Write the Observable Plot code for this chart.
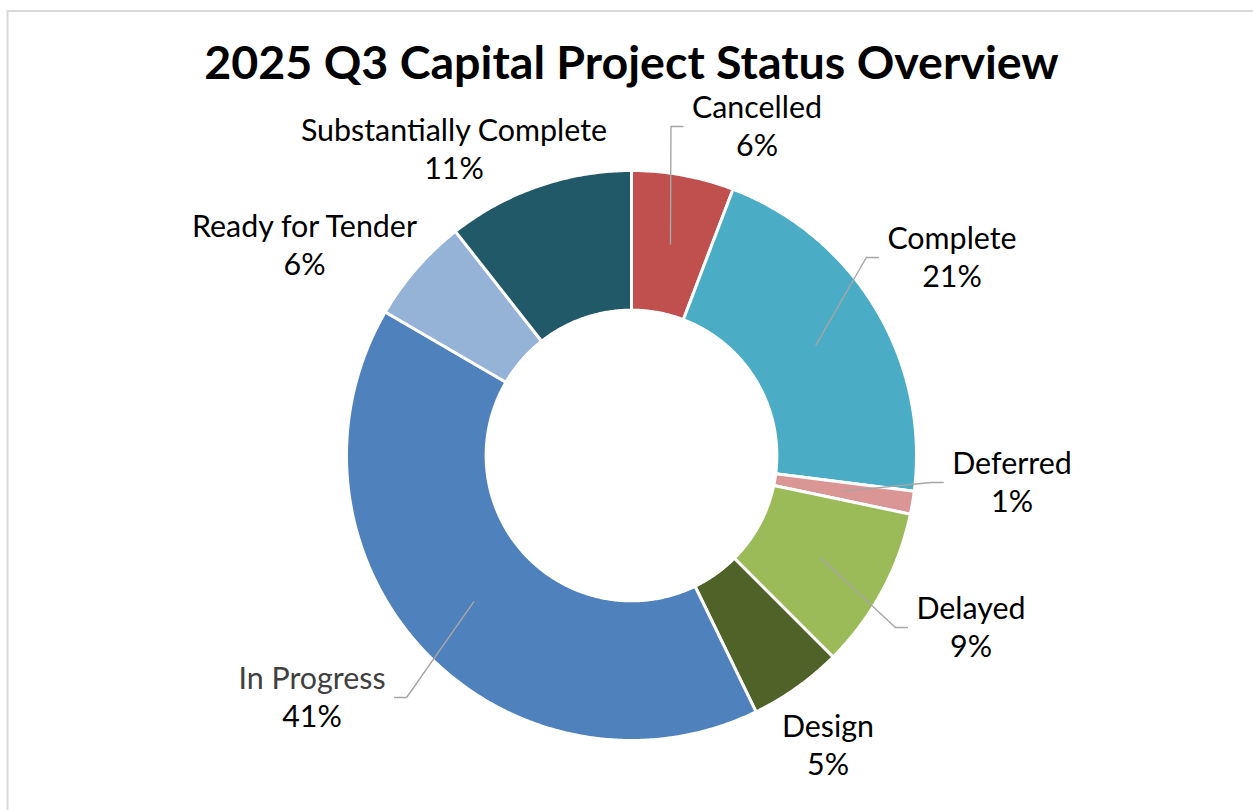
<!DOCTYPE html>
<html><head><meta charset="utf-8">
<script src="https://cdn.jsdelivr.net/npm/d3@7"></script>
<script src="https://cdn.jsdelivr.net/npm/@observablehq/plot@0.6"></script>
<style>body{margin:0;background:#fff;}</style>
</head><body><div id="chart"></div>
<script>
// ---- data (share of capital projects, %) ----
const categories = ["Cancelled","Complete","Deferred","Delayed","Design","In Progress","Ready for Tender","Substantially Complete"];
const projectShares = [5.8, 21.2, 1.3, 9.2, 5.3, 40.6, 6.0, 10.6];
const sliceColors = ["#C0504D","#4BACC6","#D99694","#9BBB59","#4F6228","#4F81BD","#95B3D7","#215968"];
const titleText = "2025 Q3 Capital Project Status Overview";

// ---- layout (pixels) ----
const W = 1253, H = 810, CX = 631, CY = 455, R = 285, HOLE = 0.51;
const FONT = "Lato", FS = 30.4, TITLE_FS = 46.6, LINE_GAP = 38;
// label anchor = (centre x, first baseline) as pixel offset from donut centre
const labelLayout = {
  "Cancelled": {dx: 125.5, dy: -338, leader: true},
  "Complete": {dx: 320.5, dy: -207, leader: true},
  "Deferred": {dx: 380.5, dy: 18, leader: true},
  "Delayed": {dx: 339.5, dy: 163, leader: true},
  "Design": {dx: 196.5, dy: 281, leader: false},
  "In Progress": {dx: -319.5, dy: 233, leader: true},
  "Ready for Tender": {dx: -327, dy: -219, leader: false},
  "Substantially Complete": {dx: -177.5, dy: -315, leader: false}
};

const ctx = document.createElement("canvas").getContext("2d");
function textWidth(s, fs, weight = "normal", fam = FONT) { ctx.font = `${weight} ${fs}px "${fam}"`; return ctx.measureText(s).width; }

const total = d3.sum(projectShares);
const pie = d3.pie().sort(null).value(d => d)(projectShares);
const pctText = i => Math.round(projectShares[i] / total * 100) + "%";

const arcRows = [];
pie.forEach((s, i) => {
  const name = categories[i];
  const n = Math.max(2, Math.ceil((s.endAngle - s.startAngle) / (Math.PI / 360)));
  for (let k = 0; k <= n; k++) { const a = s.startAngle + (s.endAngle - s.startAngle) * k / n; arcRows.push({name, x: Math.sin(a), y: Math.cos(a)}); }
  for (let k = n; k >= 0; k--) { const a = s.startAngle + (s.endAngle - s.startAngle) * k / n; arcRows.push({name, x: HOLE * Math.sin(a), y: HOLE * Math.cos(a)}); }
});

const labelRows = categories.map((name, i) => {
  const L = labelLayout[name];
  return {name, pct: pctText(i), x: L.dx / R, y: -L.dy / R, gray: name === "In Progress"};
});

const leaderRows = [];
pie.forEach((s, i) => {
  const name = categories[i], L = labelLayout[name];
  if (!L.leader) return;
  const w = Math.max(textWidth(name, FS), textWidth(pctText(i), FS));
  const a = (s.startAngle + s.endAngle) / 2, r = (1 + HOLE) / 2;
  const side = L.dx > 0 ? -1 : 1;
  const endX = L.dx + side * (w / 2 + 9), elbowX = endX + side * 12, yy = L.dy + 9;
  leaderRows.push({name, x: r * Math.sin(a), y: r * Math.cos(a)});
  leaderRows.push({name, x: elbowX / R, y: -yy / R});
  leaderRows.push({name, x: endX / R, y: -yy / R});
});

const chart = Plot.plot({
  width: W, height: H,
  margin: 0,
  x: {domain: [-CX / R, (W - CX) / R], range: [0, W], axis: null},
  y: {domain: [-(H - CY) / R, CY / R], range: [H, 0], axis: null},
  color: {domain: categories, range: sliceColors},
  style: {fontFamily: FONT, background: "#fff"},
  marks: [
    Plot.frame({stroke: "#d9d9d9", strokeWidth: 2, insetLeft: 7, insetTop: 10.5, insetRight: -10, insetBottom: -10}),
    Plot.line(arcRows, {x: "x", y: "y", z: "name", fill: "name", stroke: "white", strokeWidth: 3, curve: "linear-closed"}),
    Plot.line(leaderRows, {x: "x", y: "y", z: "name", stroke: "#a6a6a6", strokeWidth: 1.4}),
    Plot.text(labelRows.filter(d => !d.gray), {x: "x", y: "y", text: "name", fontSize: FS, fill: "#000", lineAnchor: "middle", dy: -0.32 * FS}),
    Plot.text(labelRows.filter(d => d.gray), {x: "x", y: "y", text: "name", fontSize: FS, fill: "#404040", lineAnchor: "middle", dy: -0.32 * FS}),
    Plot.text(labelRows, {x: "x", y: "y", text: "pct", fontSize: FS, fill: "#000", lineAnchor: "middle", dy: LINE_GAP - 0.32 * FS}),
    Plot.text([{x: 0, t: titleText}], {x: "x", frameAnchor: "top", text: "t", fontSize: TITLE_FS, fontWeight: "bold", fill: "#000", lineAnchor: "middle", dy: 78 - 0.32 * TITLE_FS})
  ]
});
document.getElementById("chart").append(chart);
</script>
</body></html>
